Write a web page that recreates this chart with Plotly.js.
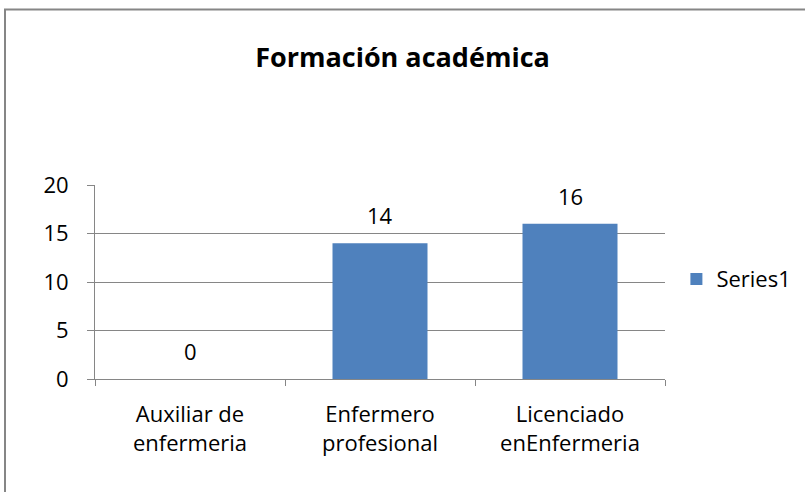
<!DOCTYPE html>
<html>
<head>
<meta charset="utf-8">
<script src="https://cdn.plot.ly/plotly-3.0.1.min.js"></script>
<style>
html,body{margin:0;padding:0;background:#fff;}
#chart{width:805px;height:492px;}
</style>
</head>
<body>
<div id="chart"></div>
<script>
const chartTitle = "Formación académica";
const categories = ["Auxiliar de<br>enfermeria", "Enfermero<br>profesional", "Licenciado<br>enEnfermeria"];
const seriesName = "Series1";
const values = [0, 14, 16];
const yTicks = [0, 5, 10, 15, 20];

const FONT = "Open Sans, Calibri, sans-serif";
const GRID = "#868686";

const trace = {
  type: "bar",
  x: categories,
  y: values,
  name: seriesName,
  marker: {color: "#4F81BD"},
  showlegend: true,
  hoverinfo: "x+y"
};

const annotations = categories.map((c, i) => ({
  x: c, y: values[i], xref: "x", yref: "y",
  text: String(values[i]), showarrow: false,
  yanchor: "bottom", yshift: 11,
  font: {family: FONT, size: 22, color: "#000"}
}));

const layout = {
  width: 805, height: 492,
  margin: {l: 95, r: 140, t: 185, b: 113, autoexpand: false},
  paper_bgcolor: "#fff", plot_bgcolor: "#fff",
  font: {family: FONT, size: 22, color: "#000"},
  title: {
    text: "<b>" + chartTitle + "</b>",
    font: {family: FONT, size: 27, color: "#000"},
    x: 0.5, xref: "container", xanchor: "center",
    y: 1 - 58/492, yref: "container", yanchor: "middle"
  },
  bargap: 0.5,
  xaxis: {
    type: "category",
    showline: true, linecolor: GRID, linewidth: 1,
    ticks: "outside", tickson: "boundaries", ticklen: 6, tickcolor: GRID, tickwidth: 1,
    showgrid: false, zeroline: false,
    tickfont: {family: FONT, size: 22, color: "#000"},
    ticklabelstandoff: 16,
    automargin: false,
    fixedrange: true
  },
  yaxis: {
    range: [0, 20],
    tickvals: yTicks, ticktext: yTicks.map(String),
    showline: true, linecolor: GRID, linewidth: 1,
    ticks: "outside", ticklen: 7, tickcolor: GRID, tickwidth: 1,
    showgrid: true, gridcolor: GRID, gridwidth: 1,
    zeroline: false,
    tickfont: {family: FONT, size: 22, color: "#000"},
    ticklabelstandoff: 14,
    automargin: false,
    fixedrange: true
  },
  legend: {
    x: 1.02, xanchor: "left", y: 0.515, yanchor: "middle",
    font: {family: FONT, size: 22, color: "#000"},
    itemwidth: 30, bgcolor: "rgba(0,0,0,0)"
  },
  annotations: annotations,
  shapes: [{
    type: "rect", xref: "paper", yref: "paper",
    x0: (5 - 95)/570, x1: (900 - 95)/570,
    y0: (379 - 600)/194, y1: (379 - 9.5)/194,
    line: {color: "#868686", width: 2}, fillcolor: "rgba(0,0,0,0)", layer: "below"
  }]
};

Plotly.newPlot("chart", [trace], layout, {displayModeBar: false, staticPlot: true});
</script>
</body>
</html>
